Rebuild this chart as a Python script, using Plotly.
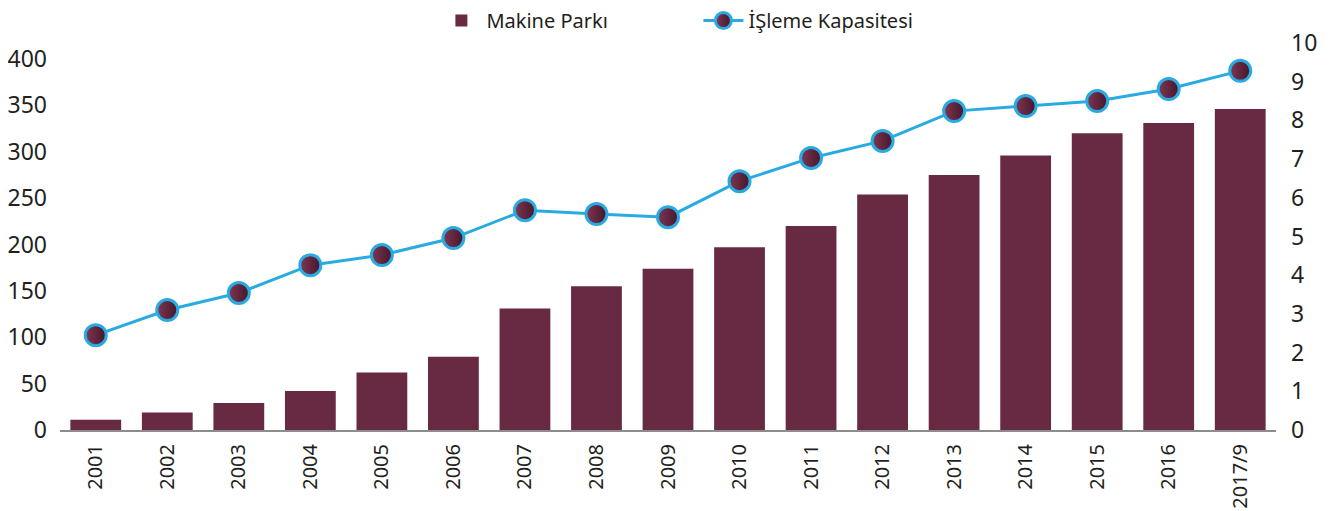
import plotly.graph_objects as go

years = ["2001", "2002", "2003", "2004", "2005", "2006", "2007", "2008", "2009",
         "2010", "2011", "2012", "2013", "2014", "2015", "2016", "2017/9"]
makine_parki = [11, 19, 29, 42, 62, 79, 131, 155, 174, 197, 220, 254, 275, 296, 320, 331, 346]
isleme_kapasitesi = [2.45, 3.1, 3.54, 4.26, 4.52, 4.96, 5.68, 5.58, 5.5,
                     6.43, 7.03, 7.47, 8.24, 8.37, 8.5, 8.81, 9.28]

left_ticks = [0, 50, 100, 150, 200, 250, 300, 350, 400]
right_ticks = list(range(0, 11))

text_color = "#231F20"
font_family = "Noto Sans"

fig = go.Figure()

fig.add_trace(go.Bar(
    x=years, y=makine_parki, name="Makine Parkı",
    marker=dict(color="#672A42", line=dict(width=0)),
    yaxis="y",
))

fig.add_trace(go.Scatter(
    x=years, y=isleme_kapasitesi, name="İŞleme Kapasitesi",
    mode="lines+markers",
    line=dict(color="#29ABE2", width=3),
    marker=dict(size=21, color="#7E3754",
                gradient=dict(type="horizontal", color="#451629"),
                line=dict(color="#29ABE2", width=3)),
    yaxis="y2",
))

# the page body keeps its default 8px margin, so the figure is 8px smaller
fig.update_layout(
    width=1334, height=503,
    margin=dict(l=52, r=66, t=35, b=81, autoexpand=False),
    plot_bgcolor="white", paper_bgcolor="white",
    font=dict(family=font_family, color=text_color),
    bargap=0.29,
    showlegend=True,
    legend=dict(orientation="h", x=0.525, xanchor="center",
                yref="container", y=0.975, yanchor="middle",
                font=dict(size=20, color=text_color),
                itemwidth=40, entrywidth=207, traceorder="normal"),
    xaxis=dict(
        type="category", range=[-0.5, 16.5], tickangle=-90, showgrid=False,
        automargin=False, showline=True, linecolor="#8C8C8C", linewidth=2,
        ticks="", ticklabelstandoff=4,
        tickfont=dict(size=20, color=text_color),
    ),
    yaxis=dict(
        range=[0, 417.3], tickvals=left_ticks, showgrid=False, automargin=False,
        zeroline=False, showline=False, ticks="",
        ticklabelstandoff=12,
        tickfont=dict(size=23, color=text_color),
    ),
    yaxis2=dict(
        range=[0, 10], tickvals=right_ticks, overlaying="y", side="right",
        showgrid=False, zeroline=False, showline=False, ticks="", automargin=False,
        ticklabelstandoff=14,
        tickfont=dict(size=23, color=text_color),
    ),
)

fig.write_html("out.html")
